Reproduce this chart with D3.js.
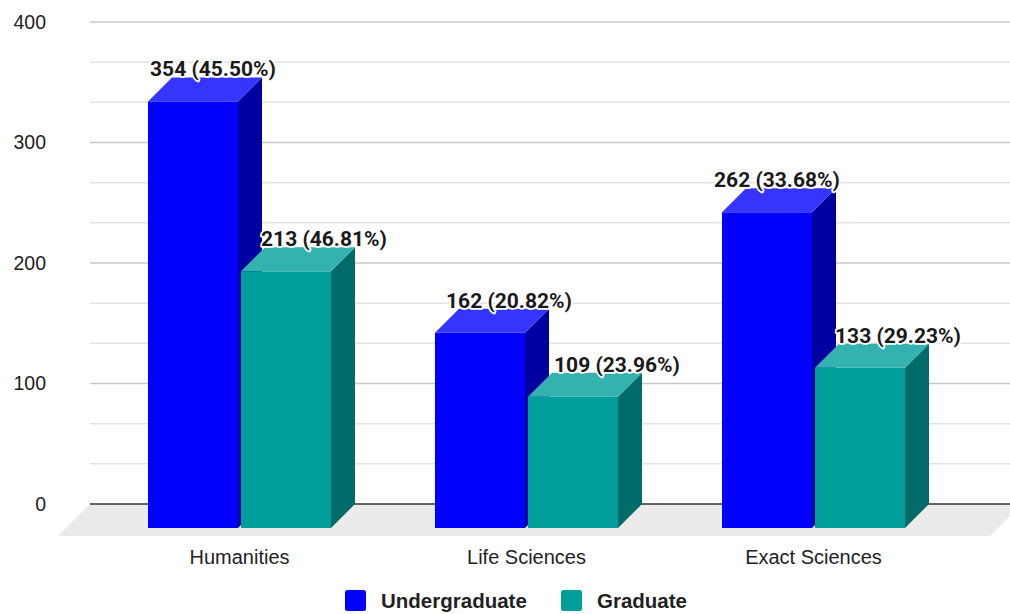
<!DOCTYPE html>
<html>
<head>
<meta charset="utf-8">
<script src="https://cdn.jsdelivr.net/npm/d3@7"></script>
<style>
  html, body { margin: 0; padding: 0; background: #fff; }
  svg { display: block; }
</style>
</head>
<body>
<svg id="chart" width="1010" height="614"></svg>
<script>
// Enrolment by field and level
const categories = ["Humanities", "Life Sciences", "Exact Sciences"];
const seriesNames = ["Undergraduate", "Graduate"];
const undergraduate = [354, 162, 262];
const graduate = [213, 109, 133];
const yTicks = [0, 100, 200, 300, 400];

const W = 1010, H = 614;
const depth = 24;                // 3D extrusion (px) of each bar
const floorFront = 8;            // floor reaching in front of bar faces

const svg = d3.select("#chart");

// Palette: front, side, top faces for each series
const faces = [
  { front: "#0000ff", side: "#0000a0", top: "#3535ff" },
  { front: "#009e9a", side: "#006b69", top: "#33b2af" }
];

// Value scale on the back wall; front faces sit `depth` px lower
const yBack = d3.scaleLinear().domain([0, 400]).range([504, 22]);
const yFront = v => yBack(v) + depth;

const plotLeft = 90, plotRight = W + 12;

// Category bands measured in the front plane
const x0 = d3.scaleBand().domain(categories).range([96, 957]).padding(0);
const x1 = d3.scaleBand().domain(seriesNames).range([-91.5, 91.5]).paddingInner(3 / 93);

// Gridlines: major every 100, minor at thirds
const minor = d3.range(0, 400, 100 / 3).filter((d, i) => i % 3 !== 0);
svg.append("g").selectAll("line").data(minor).join("line")
  .attr("x1", plotLeft).attr("x2", plotRight)
  .attr("y1", d => yBack(d)).attr("y2", d => yBack(d))
  .attr("stroke", "#e3e3e3").attr("stroke-width", 1.5);
svg.append("g").selectAll("line").data(yTicks.filter(d => d > 0)).join("line")
  .attr("x1", plotLeft).attr("x2", plotRight)
  .attr("y1", d => yBack(d)).attr("y2", d => yBack(d))
  .attr("stroke", "#c8c8c8").attr("stroke-width", 1.5);

// Floor
const fy0 = yBack(0), fy1 = yBack(0) + depth + floorFront, fdx = depth + floorFront;
svg.append("polygon")
  .attr("points", [[plotLeft, fy0], [plotRight, fy0], [plotRight - fdx, fy1], [plotLeft - fdx, fy1]].join(" "))
  .attr("fill", "#ebebeb");

svg.append("line")
  .attr("x1", plotLeft).attr("x2", plotRight)
  .attr("y1", fy0).attr("y2", fy0)
  .attr("stroke", "#333").attr("stroke-width", 1.5);

// Y axis labels
svg.append("g").selectAll("text").data(yTicks).join("text")
  .attr("x", 46).attr("y", d => yBack(d))
  .attr("dy", "0.35em")
  .attr("text-anchor", "end")
  .attr("font-family", "'Liberation Sans', Arial, sans-serif")
  .attr("font-size", 19.5)
  .attr("fill", "#222")
  .text(d => d);

// Bars
const series = [undergraduate, graduate];
const totals = series.map(s => d3.sum(s));
const pct = d3.format(".2%");
const bw = x1.bandwidth();

const bars = [];
categories.forEach((c, ci) => {
  series.forEach((s, si) => {
    const xl = x0(c) + x0.bandwidth() / 2 + x1(seriesNames[si]);
    bars.push({ ci, si, v: s[ci], xl });
  });
});

const gBars = svg.append("g");
bars.forEach(b => {
  const yf = yFront(b.v), yb = yFront(0);
  const f = faces[b.si];
  const g = gBars.append("g");
  g.append("rect")
    .attr("x", b.xl).attr("y", yf).attr("width", bw).attr("height", yb - yf)
    .attr("fill", f.front);
  g.append("polygon")
    .attr("points", [[b.xl + bw, yf], [b.xl + bw + depth, yf - depth], [b.xl + bw + depth, yb - depth], [b.xl + bw, yb]].join(" "))
    .attr("fill", f.side);
  g.append("polygon")
    .attr("points", [[b.xl, yf], [b.xl + depth, yf - depth], [b.xl + bw + depth, yf - depth], [b.xl + bw, yf]].join(" "))
    .attr("fill", f.top);
});

// Value labels, shifted sideways so neighbours do not collide
const labelShift = [[8, 26], [17, 32], [-2, 26]];
svg.append("g").selectAll("text").data(bars).join("text")
  .attr("x", b => b.xl + bw / 2 + depth / 2 + labelShift[b.ci][b.si])
  .attr("y", b => yBack(b.v) - 1)
  .attr("text-anchor", "middle")
  .attr("font-family", "Roboto, 'Liberation Sans', sans-serif")
  .attr("font-weight", "bold")
  .attr("font-size", 21)
  .attr("fill", "#1a1a1a")
  .attr("stroke", "#fff").attr("stroke-width", 3.5)
  .attr("stroke-linejoin", "round")
  .attr("paint-order", "stroke")
  .text(b => `${b.v} (${pct(b.v / totals[b.si])})`);

// Category labels
svg.append("g").selectAll("text").data(categories).join("text")
  .attr("x", d => x0(d) + x0.bandwidth() / 2)
  .attr("y", 564)
  .attr("text-anchor", "middle")
  .attr("font-family", "'Liberation Sans', Arial, sans-serif")
  .attr("font-size", 20)
  .attr("fill", "#222")
  .text(d => d);

// Legend
const legendX = [345, 561];
const lg = svg.append("g").selectAll("g").data(seriesNames).join("g")
  .attr("transform", (d, i) => `translate(${legendX[i]},590)`);
lg.append("rect")
  .attr("width", 21).attr("height", 21).attr("rx", 2.5)
  .attr("fill", (d, i) => faces[i].front);
lg.append("text")
  .attr("x", 36).attr("y", 18)
  .attr("font-family", "'Liberation Sans', Arial, sans-serif")
  .attr("font-weight", "bold")
  .attr("font-size", 20.5)
  .attr("fill", "#222")
  .text(d => d);
</script>
</body>
</html>
